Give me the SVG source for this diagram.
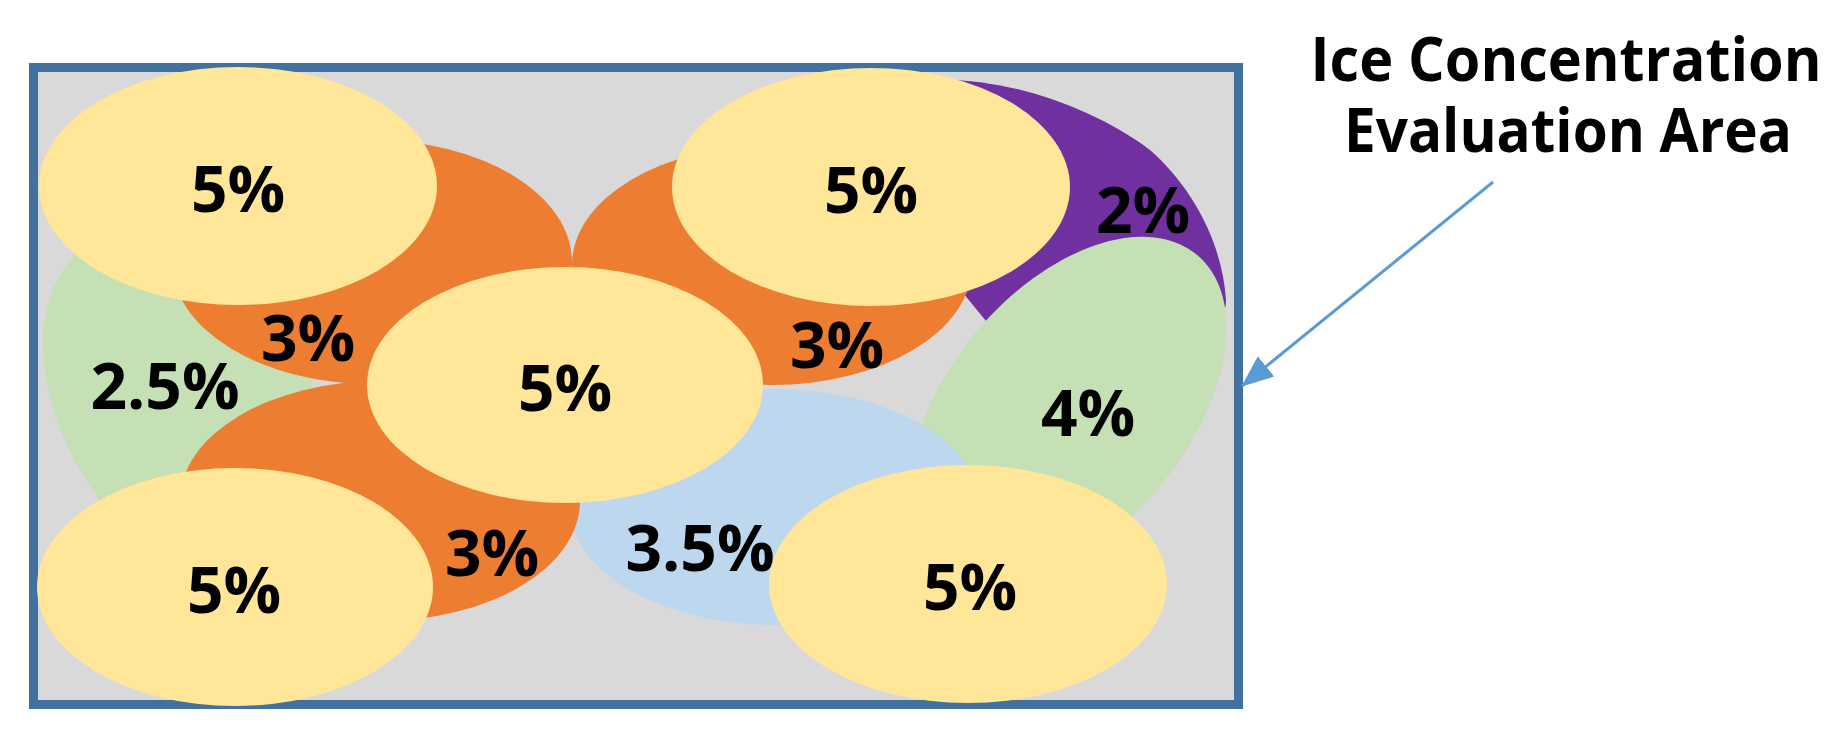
<svg xmlns="http://www.w3.org/2000/svg" width="1846" height="744" viewBox="0 0 1846 744">
  <defs>
    <style>
      .frame { fill: #D9D9D9; stroke: #41719C; stroke-width: 9; }
      .yellow { fill: #FFE699; }
      .orange { fill: #ED7D31; }
      .green { fill: #C5E0B4; }
      .purple { fill: #7030A0; }
      .blue { fill: #BDD7EE; }
      .lbl { font-family: "Open Sans", "Noto Sans", "Liberation Sans", sans-serif; font-weight: 700; font-size: 64px; fill: #000000; text-anchor: middle; }
      .title { font-family: "Open Sans", "Noto Sans", "Liberation Sans", sans-serif; font-weight: 700; font-size: 61px; fill: #000000; text-anchor: middle; }
      .conn { fill: none; stroke: #5B9BD5; stroke-width: 3; }
    </style>
    <marker id="arrowhead" viewBox="0 0 32 26" refX="31" refY="13" markerWidth="32" markerHeight="26" markerUnits="userSpaceOnUse" orient="auto">
      <path d="M0,0 L32,13 L0,26 Z" fill="#5B9BD5"/>
    </marker>
  </defs>

  <rect width="1846" height="744" fill="#FFFFFF"/>

  <g id="evaluation-area">
    <rect class="frame" x="33.5" y="67.5" width="1205" height="637"/>
  </g>

  <g id="zone-green-left">
    <path class="green" d="M150,205 C95,225 45,265 43,340 C43,400 65,455 110,515 L240,530 C290,475 313,430 313,386 C313,350 300,330 280,310 L180,230 Z"/>
  </g>
  <g id="zone-purple">
    <path class="purple" d="M905,140 L930,80 C1000,76 1090,105 1150,150 C1190,185 1222,240 1226,300 C1226,308 1224,315 1215,325 L1100,365 L1005,344 L963,293 L925,240 Z"/>
  </g>
  <g id="zone-green-right">
    <ellipse class="green" cx="1068" cy="409" rx="201" ry="120" transform="rotate(-50 1068 409)"/>
  </g>
  <g id="zone-blue">
    <ellipse class="blue" cx="775" cy="507" rx="205" ry="118"/>
  </g>
  <g id="zone-orange-top-left">
    <ellipse class="orange" cx="372" cy="262" rx="200" ry="122"/>
  </g>
  <g id="zone-orange-top-right">
    <ellipse class="orange" cx="772" cy="265" rx="200" ry="120"/>
  </g>
  <g id="zone-orange-bottom">
    <ellipse class="orange" cx="380" cy="501" rx="200" ry="120"/>
  </g>
  <g id="zone-yellow-top-left">
    <ellipse class="yellow" cx="238" cy="186" rx="199" ry="119"/>
  </g>
  <g id="zone-yellow-top-right">
    <ellipse class="yellow" cx="871" cy="187" rx="199" ry="119"/>
  </g>
  <g id="zone-yellow-middle">
    <ellipse class="yellow" cx="565" cy="385" rx="198" ry="118"/>
  </g>
  <g id="zone-yellow-bottom-left">
    <ellipse class="yellow" cx="235" cy="587" rx="198" ry="119"/>
  </g>
  <g id="zone-yellow-bottom-right">
    <ellipse class="yellow" cx="968" cy="584" rx="199" ry="119"/>
  </g>

  <g id="labels">
    <text class="lbl" x="238" y="212">5%</text>
    <text class="lbl" x="871" y="213">5%</text>
    <text class="lbl" x="565" y="411">5%</text>
    <text class="lbl" x="234" y="613">5%</text>
    <text class="lbl" x="970" y="610">5%</text>
    <text class="lbl" x="308" y="361">3%</text>
    <text class="lbl" x="837" y="368">3%</text>
    <text class="lbl" x="492" y="576">3%</text>
    <text class="lbl" x="165" y="409">2.5%</text>
    <text class="lbl" x="700" y="571">3.5%</text>
    <text class="lbl" x="1088" y="436">4%</text>
    <text class="lbl" x="1143" y="233">2%</text>
  </g>

  <g id="title">
    <text class="title" x="1566" y="81" textLength="511" lengthAdjust="spacingAndGlyphs">Ice Concentration</text>
    <text class="title" x="1568" y="152" textLength="448" lengthAdjust="spacingAndGlyphs">Evaluation Area</text>
  </g>

  <g id="connectors">
    <line class="conn" x1="1493" y1="182" x2="1242" y2="386" marker-end="url(#arrowhead)"/>
  </g>
</svg>
